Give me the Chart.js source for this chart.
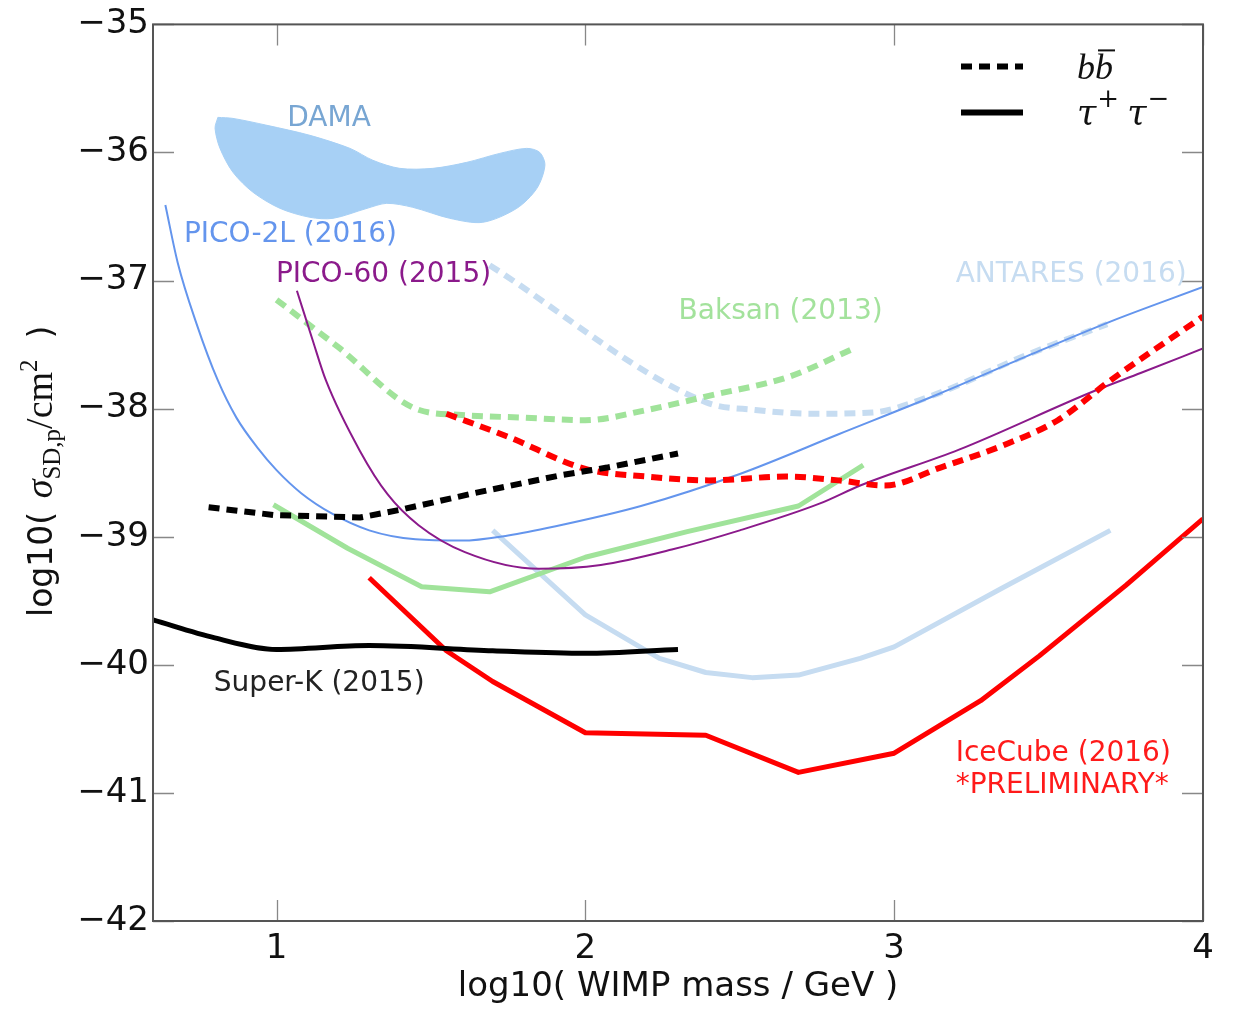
<!DOCTYPE html>
<html><head><meta charset="utf-8">
<script src="https://cdn.jsdelivr.net/npm/chart.js@4.4.0/dist/chart.umd.min.js"></script>
<style>html,body{margin:0;padding:0;background:#fff;}canvas{display:block;}</style>
</head><body>
<canvas id="c" width="1238" height="1009"></canvas>
<script>
// ---------- axis ranges / ticks ----------
const xRange = [0.6, 4];
const yRange = [-42, -35];
const xTickValues = [1, 2, 3, 4];
const yTickValues = [-42, -41, -40, -39, -38, -37, -36, -35];

// ---------- series (log10 mass, log10 sigma) ----------
const picoTwoLX = [0.64,0.68,0.74,0.81,0.87,0.94,1.00,1.08,1.18,1.30,1.45,1.60,1.75,1.90,2.18,2.50,2.82,3.15,3.43,3.70,4.00];
const picoTwoLY = [-36.41,-36.86,-37.33,-37.78,-38.07,-38.31,-38.48,-38.66,-38.82,-38.95,-39.02,-39.03,-38.99,-38.92,-38.76,-38.51,-38.20,-37.88,-37.59,-37.32,-37.05];

const picoSixtyX = [1.066,1.115,1.16,1.27,1.36,1.46,1.61,1.85,2.05,2.28,2.50,2.76,2.89,3.21,3.64,3.80,4.00];
const picoSixtyY = [-37.08,-37.45,-37.78,-38.33,-38.67,-38.91,-39.12,-39.25,-39.22,-39.10,-38.95,-38.74,-38.60,-38.32,-37.87,-37.72,-37.53];

const superKTauX = [0.60,0.80,1.00,1.30,1.70,2.00,2.30];
const superKTauY = [-39.65,-39.79,-39.88,-39.85,-39.89,-39.91,-39.88];
const superKBbX = [0.78,0.99,1.27,1.40,1.64,1.92,2.07,2.30];
const superKBbY = [-38.77,-38.83,-38.85,-38.79,-38.66,-38.52,-38.46,-38.35];

const baksanTauX = [0.99,1.23,1.47,1.69,2.00,2.33,2.69,2.90];
const baksanTauY = [-38.75,-39.09,-39.39,-39.43,-39.16,-38.96,-38.76,-38.44];
const baksanBbX = [1.00,1.20,1.45,1.60,1.80,2.00,2.20,2.40,2.66,2.87];
const baksanBbY = [-37.15,-37.52,-38.00,-38.05,-38.07,-38.09,-38.01,-37.90,-37.75,-37.53];

const antaresTauX = [1.70,2.00,2.24,2.39,2.54,2.69,2.89,3.00,3.35,3.70];
const antaresTauY = [-38.95,-39.61,-39.95,-40.06,-40.10,-40.08,-39.95,-39.86,-39.40,-38.95];
const antaresBbX = [1.69,2.39,2.55,2.74,2.93,3.11,3.43,3.69];
const antaresBbY = [-36.88,-37.95,-38.01,-38.04,-38.03,-37.91,-37.58,-37.34];

const iceCubeTauX = [1.30,1.55,1.70,2.00,2.39,2.69,3.00,3.28,3.47,3.75,4.00];
const iceCubeTauY = [-39.32,-39.89,-40.13,-40.53,-40.55,-40.84,-40.69,-40.28,-39.93,-39.38,-38.86];
const iceCubeBbX = [1.55,1.75,2.00,2.20,2.40,2.65,2.82,2.97,3.15,3.37,3.53,3.70,4.00];
const iceCubeBbY = [-38.04,-38.22,-38.47,-38.53,-38.56,-38.53,-38.56,-38.60,-38.46,-38.27,-38.09,-37.78,-37.28];

// DAMA allowed region outline (closed loop)
const damaX = [0.810,0.859,0.969,1.108,1.238,1.312,1.399,1.506,1.616,1.723,1.810,1.852,1.869,1.843,1.778,1.668,1.561,1.441,1.357,1.293,1.183,1.108,1.011,0.924,0.859,0.817,0.801,0.810];
const damaY = [-35.726,-35.734,-35.788,-35.866,-35.968,-36.061,-36.124,-36.124,-36.077,-36.007,-35.968,-35.999,-36.100,-36.280,-36.436,-36.545,-36.514,-36.428,-36.397,-36.436,-36.514,-36.506,-36.436,-36.311,-36.155,-35.968,-35.812,-35.726];

// ---------- text annotations (anchored in data coordinates) ----------
const annotations = [
  {text:'DAMA',               x:1.170, y:-35.74, color:'#78a6d3', align:'center'},
  {text:'PICO-2L (2016)',     x:0.700, y:-36.645, color:'#6495ed', align:'left'},
  {text:'PICO-60 (2015)',     x:0.998, y:-36.955, color:'#8b1a8b', align:'left'},
  {text:'ANTARES (2016)',     x:3.199, y:-36.955, color:'#c6dcf1', align:'left'},
  {text:'Baksan (2013)',      x:2.302, y:-37.245, color:'#a3e29c', align:'left'},
  {text:'Super-K (2015)',     x:0.797, y:-40.15, color:'#222222', align:'left'},
  {text:'IceCube (2016)',     x:3.199, y:-40.695, color:'#ff1a1a', align:'left'},
  {text:'*PRELIMINARY*',      x:3.199, y:-40.945, color:'#ff1a1a', align:'left'}
];

const C = {
  pico2l:'#6495ed', pico60:'#8b1a8b', superk:'#000000', baksan:'#a0e39a',
  antares:'#c6dcf1', icecube:'#ff0000', dama:'#a7d0f5'
};
const DOT = [11, 7];
function pts(xs, ys){ return xs.map((x,i)=>({x:x, y:ys[i]})); }

const datasets = [
  {label:'DAMA', data:pts(damaX,damaY), borderColor:C.dama, borderWidth:1, backgroundColor:C.dama, fill:'shape', tension:0.3, order:50},
  {label:'ANTARES (2016) bb', data:pts(antaresBbX,antaresBbY), borderColor:C.antares, borderWidth:6, borderDash:DOT, cubicInterpolationMode:'monotone', order:40},
  {label:'PICO-2L (2016)', data:pts(picoTwoLX,picoTwoLY), borderColor:C.pico2l, borderWidth:2, cubicInterpolationMode:'monotone', order:30},
  {label:'Baksan (2013) bb', data:pts(baksanBbX,baksanBbY), borderColor:C.baksan, borderWidth:6, borderDash:DOT, cubicInterpolationMode:'monotone', order:39},
  {label:'ANTARES (2016) tau', data:pts(antaresTauX,antaresTauY), borderColor:C.antares, borderWidth:5, tension:0, order:38},
  {label:'Baksan (2013) tau', data:pts(baksanTauX,baksanTauY), borderColor:C.baksan, borderWidth:5, tension:0, order:35},
  {label:'PICO-60 (2015)', data:pts(picoSixtyX,picoSixtyY), borderColor:C.pico60, borderWidth:2, cubicInterpolationMode:'monotone', order:29},
  {label:'IceCube (2016) bb', data:pts(iceCubeBbX,iceCubeBbY), borderColor:C.icecube, borderWidth:6, borderDash:DOT, cubicInterpolationMode:'monotone', order:25},
  {label:'Super-K (2015) bb', data:pts(superKBbX,superKBbY), borderColor:C.superk, borderWidth:6, borderDash:DOT, tension:0, order:24},
  {label:'IceCube (2016) tau', data:pts(iceCubeTauX,iceCubeTauY), borderColor:C.icecube, borderWidth:5, tension:0, order:22},
  {label:'Super-K (2015) tau', data:pts(superKTauX,superKTauY), borderColor:C.superk, borderWidth:5, cubicInterpolationMode:'monotone', order:20}
];
datasets.forEach(d=>{ d.pointRadius=0; d.pointHoverRadius=0; if(d.fill===undefined) d.fill=false; d.borderJoinStyle='round'; });

const TICK_FONT = '"DejaVu Sans", sans-serif';

const bgPlugin = {
  id:'bg',
  beforeDraw(chart){ const ctx=chart.ctx; ctx.save(); ctx.fillStyle='#fff'; ctx.fillRect(0,0,chart.width,chart.height); ctx.restore(); }
};

const framePlugin = {
  id:'frame',
  afterDatasetsDraw(chart){
    const {ctx, chartArea:a, scales} = chart;
    ctx.save();
    ctx.strokeStyle='#888'; ctx.lineWidth=1.3; ctx.beginPath();
    const L=21;
    xTickValues.forEach(v=>{ const p=Math.round(scales.x.getPixelForValue(v))+0.5;
      ctx.moveTo(p,a.bottom); ctx.lineTo(p,a.bottom-L); ctx.moveTo(p,a.top); ctx.lineTo(p,a.top+L); });
    yTickValues.forEach(v=>{ const p=Math.round(scales.y.getPixelForValue(v))+0.5;
      ctx.moveTo(a.left,p); ctx.lineTo(a.left+L,p); ctx.moveTo(a.right,p); ctx.lineTo(a.right-L,p); });
    ctx.stroke();
    ctx.strokeStyle='#555'; ctx.lineWidth=2;
    ctx.strokeRect(a.left, a.top, a.right-a.left, a.bottom-a.top);
    ctx.restore();
  }
};

const annotationPlugin = {
  id:'annot',
  afterDatasetsDraw(chart){
    const {ctx, scales} = chart;
    ctx.save();
    ctx.font = '28px ' + TICK_FONT;
    ctx.textBaseline = 'middle';
    annotations.forEach(t=>{
      ctx.fillStyle=t.color; ctx.textAlign=t.align;
      ctx.fillText(t.text, scales.x.getPixelForValue(t.x), scales.y.getPixelForValue(t.y));
    });
    ctx.restore();
  }
};

// mathtext-like pieces
const SERIF_I = 'italic 36px "Liberation Serif"';
const TAU_F = 'italic 35px "DejaVu Serif"';
const SUP_F = '26px "DejaVu Serif"';
const legendEntries = [
  {dash:DOT, pieces:[{t:'b',f:SERIF_I,dy:0},{t:'b',f:SERIF_I,dy:0,bar:true}]},
  {dash:[], pieces:[{t:'\u03c4',f:TAU_F,dy:0,gap:1},{t:'+',f:SUP_F,dy:-18,gap:8},{t:'\u03c4',f:TAU_F,dy:0,gap:1},{t:'\u2212',f:SUP_F,dy:-18}]}
];
function drawPieces(ctx, pieces, x0, y0){
  let x=x0;
  pieces.forEach(p=>{
    ctx.font=p.f; ctx.fillText(p.t, x, y0+p.dy);
    const w=ctx.measureText(p.t).width;
    if(p.bar){ ctx.fillRect(x+3, y0-30, w-1, 2); }
    x+=w + (p.gap||0);
  });
  return x;
}
const legendPlugin = {
  id:'mathLegend',
  afterDatasetsDraw(chart){
    const {ctx, chartArea:a} = chart;
    ctx.save();
    legendEntries.forEach((e,i)=>{
      const y = a.top + 42 + i*46;
      ctx.strokeStyle='#000'; ctx.lineWidth=6; ctx.setLineDash(e.dash);
      ctx.beginPath(); ctx.moveTo(a.right-242, y); ctx.lineTo(a.right-180, y); ctx.stroke();
      ctx.setLineDash([]);
      ctx.fillStyle='#111'; ctx.textAlign='left'; ctx.textBaseline='alphabetic';
      drawPieces(ctx, e.pieces, a.right-126, y+13);
    });
    ctx.restore();
  }
};

const yTitlePieces = [
  {t:'log10( ', f:'33px "DejaVu Sans"', dy:0, gap:3},
  {t:'\u03c3', f:'italic 38px "Liberation Serif"', dy:0},
  {t:'SD,p', f:'25px "Liberation Serif"', dy:8},
  {t:'/cm', f:'38px "Liberation Serif"', dy:0},
  {t:'2', f:'25px "Liberation Serif"', dy:-15},
  {t:'  )', f:'33px "DejaVu Sans"', dy:0}
];
const yTitlePlugin = {
  id:'yTitle',
  afterDraw(chart){
    const {ctx, chartArea:a} = chart;
    ctx.save();
    ctx.translate(a.left-101, a.bottom-304);
    ctx.rotate(-Math.PI/2);
    ctx.fillStyle='#111'; ctx.textAlign='left'; ctx.textBaseline='alphabetic';
    drawPieces(ctx, yTitlePieces, 0, 0);
    ctx.restore();
  }
};

new Chart(document.getElementById('c'), {
  type:'line',
  data:{datasets:datasets},
  options:{
    responsive:false, animation:false, devicePixelRatio:1,
    layout:{padding:{top:24, right:35, left:0, bottom:0}},
    plugins:{legend:{display:false}, tooltip:{enabled:false}},
    scales:{
      x:{type:'linear', min:xRange[0], max:xRange[1],
         afterBuildTicks(s){ s.ticks = xTickValues.map(v=>({value:v})); },
         afterFit(s){ s.height = 88; },
         grid:{display:false, drawTicks:false}, border:{display:false},
         ticks:{padding:8, color:'#111', font:{family:TICK_FONT, size:34}, maxRotation:0, callback:v=>String(v)},
         title:{display:true, text:'log10( WIMP mass / GeV )', color:'#111', font:{family:TICK_FONT, size:34}, padding:{top:0,bottom:1}}},
      y:{type:'linear', min:yRange[0], max:yRange[1],
         afterBuildTicks(s){ s.ticks = yTickValues.map(v=>({value:v})); },
         afterFit(s){ s.width = 153; },
         grid:{display:false, drawTicks:false}, border:{display:false},
         ticks:{padding:4, color:'#111', font:{family:TICK_FONT, size:34}, callback:v=>String(v).replace('-', '\u2212')}}
    }
  },
  plugins:[bgPlugin, framePlugin, annotationPlugin, legendPlugin, yTitlePlugin]
});
</script>
</body></html>
